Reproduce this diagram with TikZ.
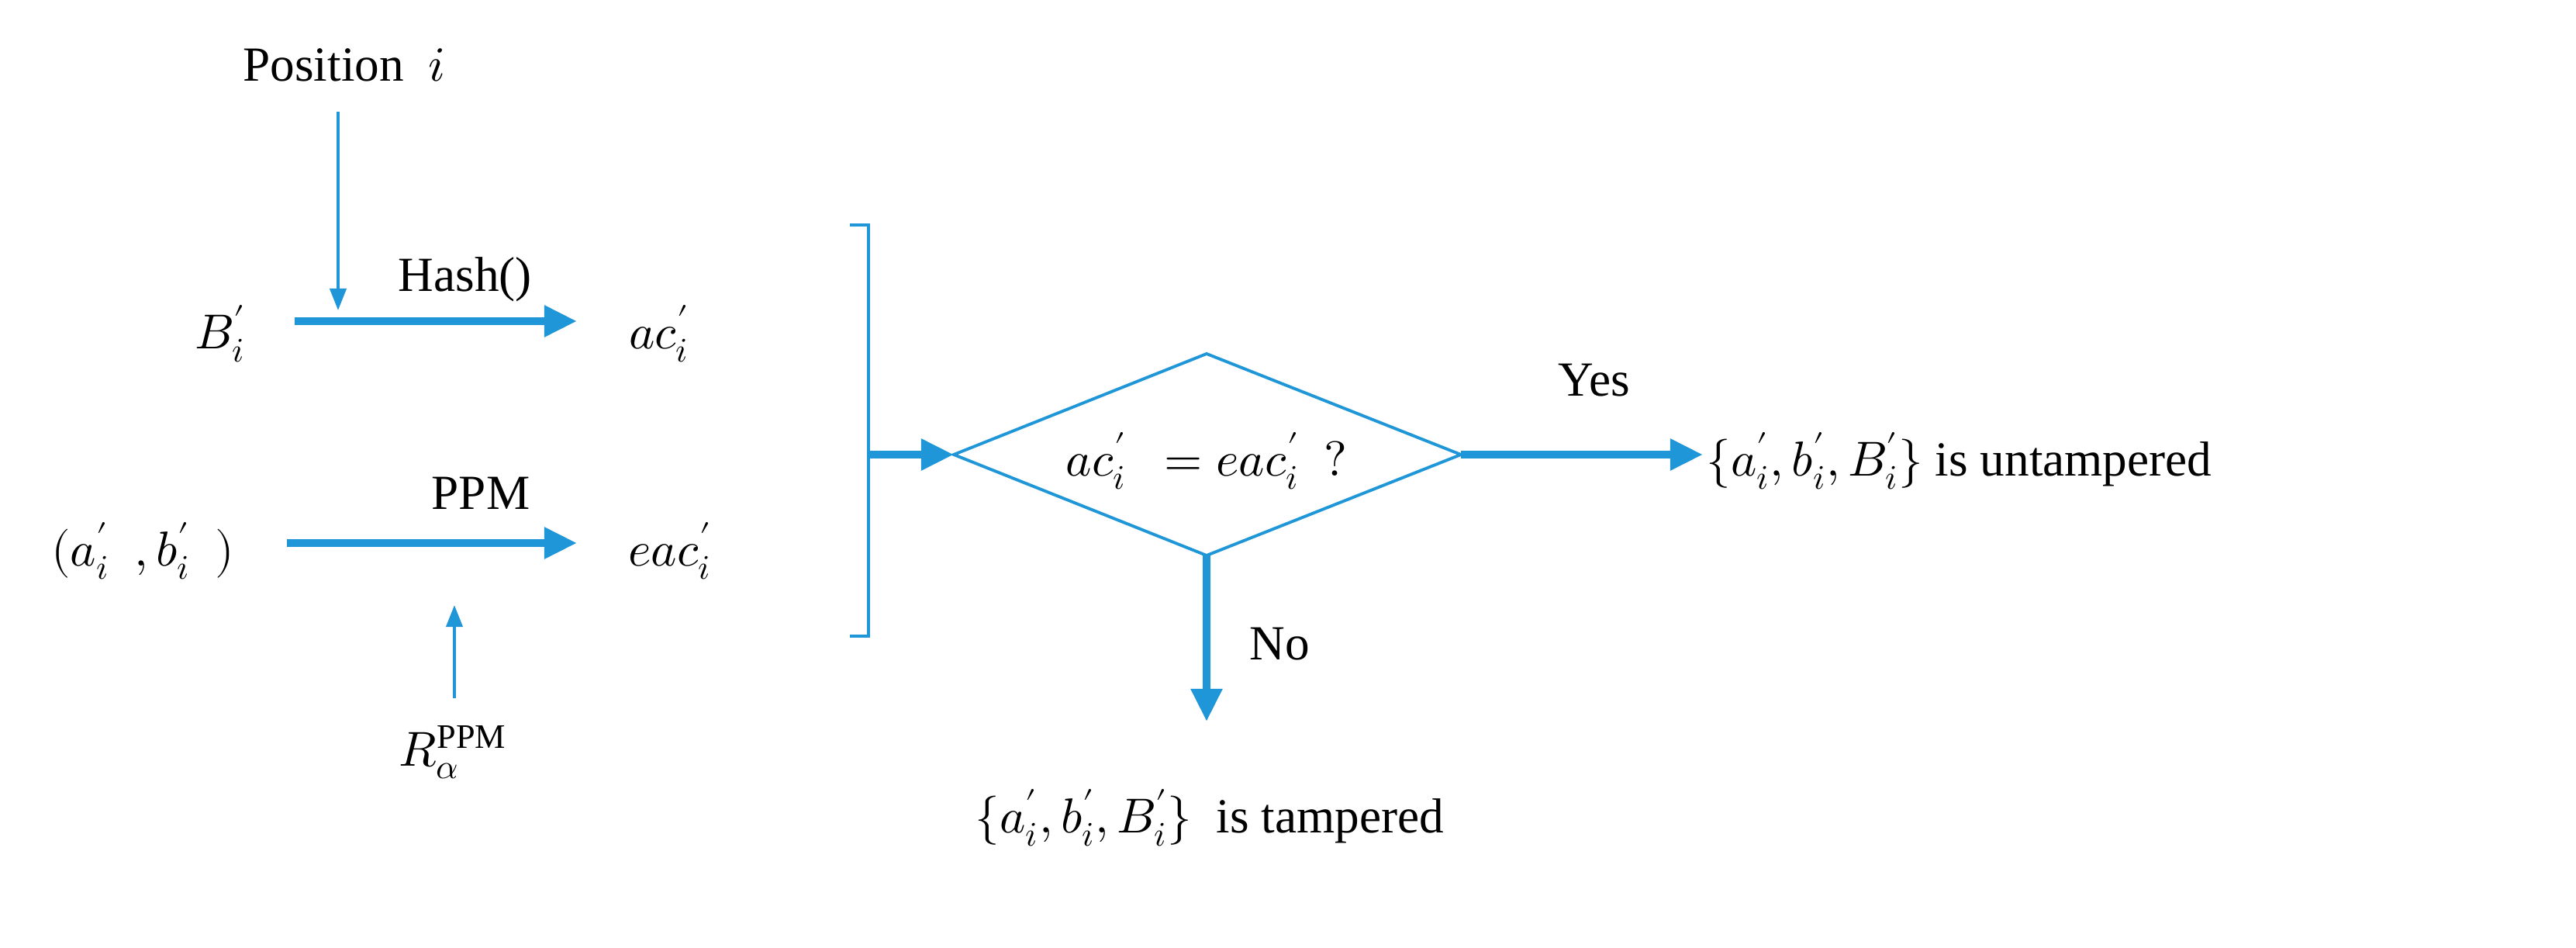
\documentclass[tikz,border=0pt]{standalone}
\usepackage{fontspec}
\setmainfont{Liberation Serif}
\usepackage{unicode-math}
\setmathfont{Latin Modern Math}
\usetikzlibrary{arrows.meta,shapes.geometric}
\definecolor{bl}{RGB}{30,150,215}
\begin{document}
\begin{tikzpicture}[x=0.02cm,y=-0.02cm,
  lbl/.style={font=\fontsize{18}{21}\selectfont,inner sep=0},
  thick arr/.style={draw=bl,line width=2.8pt,-{Triangle[length=12pt,width=11pt]}},
  thin arr/.style={draw=bl,line width=1.1pt,-{Triangle[length=8pt,width=6pt]}}]
\useasboundingbox (0,0) rectangle (1661,611);
\node[lbl] (pos) at (222,42) {Position\ \ $i$};
\node[lbl] (hash) at (300,180) {Hash()};
\node[lbl] (B) at (142,215) {$B_i'$};
\node[lbl] (ac) at (425,215) {$ac_i'$};
\node[lbl] (ab) at (92,355) {$(a_i'\ \ ,b_i'\ \ )$};
\node[lbl] (ppm) at (310,318) {PPM};
\node[lbl] (eac) at (432,355) {$eac_i'$};
\node[lbl] (R) at (292,485) {$R_\alpha^{\mathrm{PPM}}$};
\coordinate (b1) at (190,207); \coordinate (b2) at (372,207);
\coordinate (p1) at (185,350); \coordinate (p2) at (372,350);
\draw[thick arr] (b1) -- (b2);
\draw[thick arr] (p1) -- (p2);
\coordinate (t1) at (218,72); \coordinate (t2) at (218,200);
\draw[thin arr] (t1) -- (t2);
\coordinate (r1) at (293,450); \coordinate (r2) at (293,390);
\draw[thin arr] (r1) -- (r2);
\draw[bl,line width=1.1pt] (548,145) -- (560,145) -- (560,410) -- (548,410);
\coordinate (br) at (560,293);
\path (615,293) coordinate (dl) (942,293) coordinate (dr) (778,228) coordinate (dt) (778,358) coordinate (db);
\draw[bl,line width=1.1pt] (dl) -- (dt) -- (dr) -- (db) -- cycle;
\node[lbl] (cmp) at (778,297) {$ac_i'\ \ =eac_i'\ \ ?$};
\draw[thick arr] (br) -- (dl);
\coordinate (y2) at (1098,293);
\draw[thick arr] (dr) -- (y2);
\node[lbl] (yes) at (1028,245) {Yes};
\node[lbl,anchor=west] (unt) at (1100,297) {$\{a_i',b_i',B_i'\}$ is untampered};
\coordinate (n2) at (778,465);
\draw[thick arr] (db) -- (n2);
\node[lbl] (no) at (825,415) {No};
\node[lbl] (tam) at (780,527) {$\{a_i',b_i',B_i'\}$\ \ is tampered};
\end{tikzpicture}
\end{document}
